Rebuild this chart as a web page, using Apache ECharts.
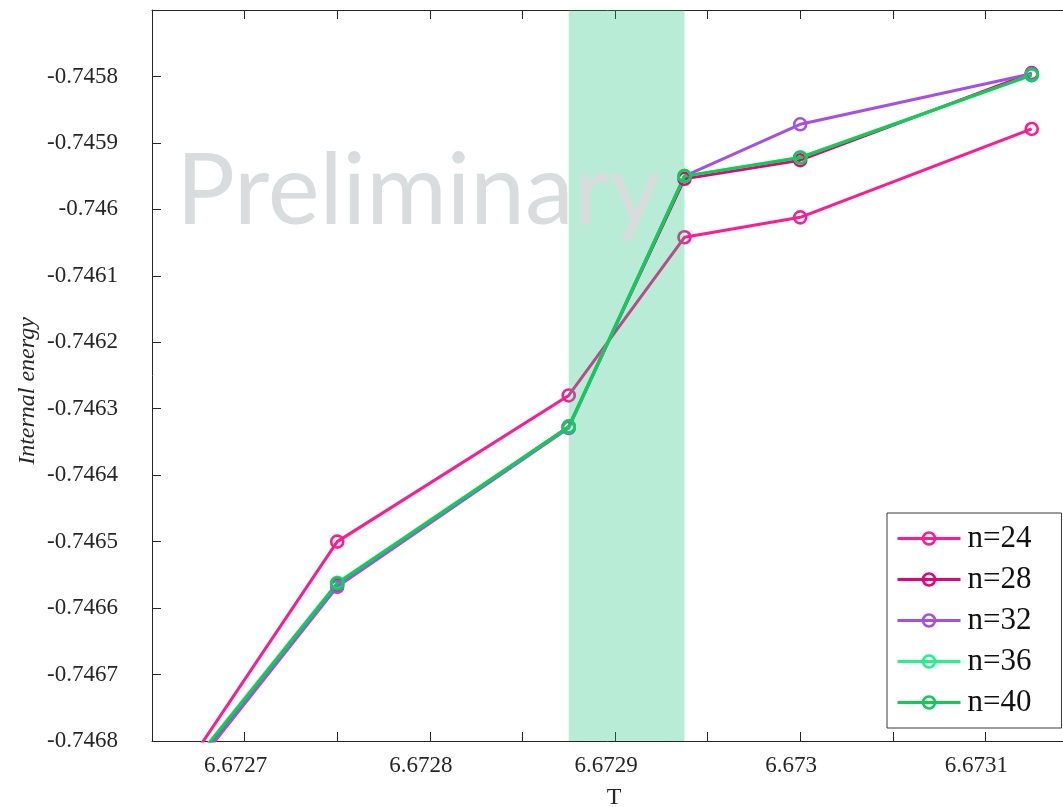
<!DOCTYPE html>
<html>
<head>
<meta charset="utf-8">
<title>Internal energy vs T</title>
<script src="https://cdn.jsdelivr.net/npm/echarts@6/dist/echarts.min.js"></script>
<style>
  html, body { margin: 0; padding: 0; background: #ffffff; }
  #chart { width: 1063px; height: 807px; }
</style>
</head>
<body>
<div id="chart"></div>
<script>
// Temperature grid
const temps = [6.672625, 6.67275, 6.672875, 6.6729375, 6.673, 6.673125];

// Internal energy per lattice size
const e24 = [-0.747019, -0.746500, -0.746280, -0.746042, -0.746012, -0.745879];
const e28 = [-0.747000, -0.746565, -0.746327, -0.745954, -0.745926, -0.745795];
const e32 = [-0.747008, -0.746568, -0.746329, -0.745950, -0.745872, -0.745796];
const e36 = [-0.746996, -0.746562, -0.746327, -0.745950, -0.745922, -0.745798];
const e40 = [-0.746998, -0.746563, -0.746327, -0.745950, -0.745922, -0.745798];

const seriesNames = ['n=24', 'n=28', 'n=32', 'n=36', 'n=40'];
const seriesValues = [e24, e28, e32, e36, e40];
const seriesColors = ['#ff1a8f', '#e8007c', '#a64ee8', '#1ff58a', '#0ccf52'];

// Critical-temperature window
const bandT = [6.672875, 6.6729375];

const xMin = 6.67265, xMax = 6.67315, xStep = 0.00005;
const yMin = -0.7468, yMax = -0.7457, yStep = 0.0001;

const serif = '"Liberation Serif", "DejaVu Serif", serif';
const axisColor = '#262626';

const chart = echarts.init(document.getElementById('chart'), null, { renderer: 'canvas' });

function makeSeries(i, z) {
  const c = seriesColors[i];
  return {
    name: seriesNames[i],
    type: 'line',
    z: z,
    data: temps.map((t, k) => [t, seriesValues[i][k]]),
    symbol: 'circle',
    symbolSize: 12,
    showSymbol: true,
    lineStyle: { color: c, width: 3 },
    itemStyle: { color: 'transparent', borderColor: c, borderWidth: 2.6 },
    emphasis: { disabled: true },
    animation: false,
    clip: true
  };
}

const series = [];
series.push(makeSeries(0, 2));
// translucent band sits above the first curve and below the rest
series.push({
  name: 'band',
  type: 'line',
  data: [],
  z: 3,
  markArea: {
    z: 3,
    silent: true,
    itemStyle: { color: 'rgba(22,192,122,0.3)', borderWidth: 0 },
    data: [[{ xAxis: bandT[0] }, { xAxis: bandT[1] }]]
  },
  animation: false
});
for (let i = 1; i < seriesNames.length; i++) series.push(makeSeries(i, 5));

const legendData = seriesNames.map((n, i) => ({
  name: n,
  lineStyle: { color: seriesColors[i], width: 3 },
  itemStyle: { color: 'transparent', borderColor: seriesColors[i], borderWidth: 2.6 }
}));

const option = {
  backgroundColor: '#ffffff',
  animation: false,
  grid: {
    left: 152, top: 10, width: 926, height: 731,
    containLabel: false, outerBoundsMode: 'none'
  },
  xAxis: [
    {
      type: 'value', position: 'bottom',
      min: xMin, max: xMax, interval: xStep,
      axisLine: { show: true, lineStyle: { color: axisColor, width: 1 } },
      axisTick: { show: true, inside: true, length: 9, lineStyle: { color: axisColor, width: 1 } },
      splitLine: { show: false },
      axisLabel: {
        show: true, margin: 13, color: axisColor,
        fontFamily: serif, fontSize: 23,
        padding: [0, 18, 0, 0],
        showMinLabel: true, showMaxLabel: true, hideOverlap: false,
        formatter: v => {
          const k = Math.round(v * 1e5);
          return k % 10 === 0 ? String(k / 1e5) : '';
        }
      }
    },
    {
      type: 'value', position: 'top',
      min: xMin, max: xMax, interval: xStep,
      axisLine: { show: true, lineStyle: { color: axisColor, width: 1 } },
      axisTick: { show: true, inside: true, length: 9, lineStyle: { color: axisColor, width: 1 } },
      splitLine: { show: false },
      axisLabel: { show: false }
    }
  ],
  yAxis: {
    type: 'value',
    min: yMin, max: yMax, interval: yStep,
    axisLine: { show: true, lineStyle: { color: axisColor, width: 1 } },
    axisTick: { show: true, inside: true, length: 9, lineStyle: { color: axisColor, width: 1 } },
    splitLine: { show: false },
    axisLabel: {
      show: true, margin: 34, color: axisColor,
      fontFamily: serif, fontSize: 23,
      showMaxLabel: false,
      formatter: v => String(Number(v.toFixed(4)))
    }
  },
  legend: {
    show: true,
    orient: 'vertical',
    left: 887, top: 513,
    padding: [10, 30, 10, 9],
    itemWidth: 63, itemHeight: 15, itemGap: 10,
    backgroundColor: '#ffffff',
    borderColor: '#3a3a3a', borderWidth: 1, borderRadius: 0,
    textStyle: { fontFamily: serif, fontSize: 31, color: '#111111', lineHeight: 30, padding: [0, 0, 0, 2] },
    selectedMode: false,
    data: legendData
  },
  graphic: [
    {
      type: 'text', z: 3, z2: 100, silent: true,
      x: 418, y: 192,
      style: {
        text: 'Preliminary',
        font: '98px Lato',
        fill: '#d8dcdc',
        align: 'center', verticalAlign: 'middle'
      }
    },
    {
      type: 'text', silent: true,
      x: 28, y: 391, rotation: Math.PI / 2,
      style: {
        text: 'Internal energy',
        font: 'italic 24px "Liberation Serif"',
        fill: axisColor,
        align: 'center', verticalAlign: 'middle'
      }
    },
    {
      type: 'text', silent: true,
      x: 614, y: 798,
      style: {
        text: 'T',
        font: '24px "Liberation Serif"',
        fill: axisColor,
        align: 'center', verticalAlign: 'middle'
      }
    }
  ],
  series: series
};

chart.setOption(option);
</script>
</body>
</html>
